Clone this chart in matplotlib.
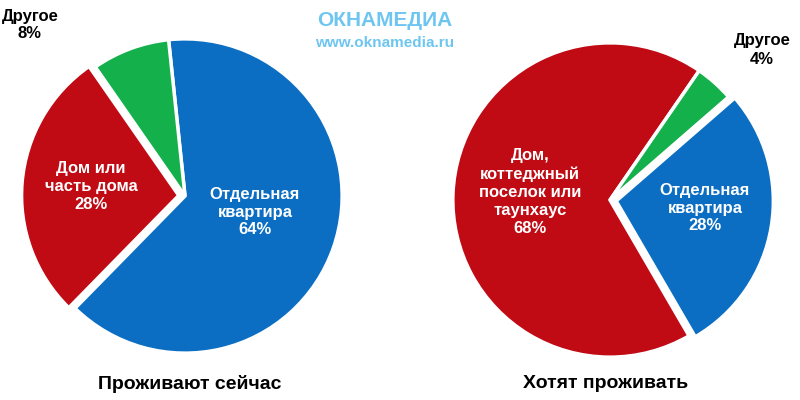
import matplotlib
matplotlib.use("Agg")
import matplotlib.pyplot as plt

now_labels = ["Отдельная\nквартира\n64%", "Дом или\nчасть дома\n28%", "Другое\n8%"]
now_values = [64, 28, 8]
want_labels = ["Отдельная\nквартира\n28%", "Дом,\nкоттеджный\nпоселок или\nтаунхаус\n68%", "Другое\n4%"]
want_values = [28, 68, 4]
colors = ["#0B6EC3", "#C00A14", "#13B04B"]

plt.rcParams['font.family'] = ['Liberation Sans', 'DejaVu Sans']
fig = plt.figure(figsize=(8, 4), dpi=100)

W, H = 800, 400
def pie_ax(cx, cy, r):
    return fig.add_axes([(cx - r) / W, (H - cy - r) / H, 2 * r / W, 2 * r / H])

def ftext(x, y, s, **kw):
    fig.text(x / W, 1 - y / H, s, ha="center", va="center", **kw)

wp = dict(edgecolor="white", linewidth=2.5)

ax1 = pie_ax(185, 196, 165)
ax1.pie(now_values, colors=colors, startangle=96, counterclock=False,
        explode=[0, 0.04, 0], wedgeprops=wp, radius=1)
ax1.set_xlim(-1.05, 1.05); ax1.set_ylim(-1.05, 1.05)

ax2 = pie_ax(610, 200, 165)
ax2.pie(want_values, colors=colors, startangle=41, counterclock=False,
        explode=[0.04, 0, 0], wedgeprops=wp, radius=1)
ax2.set_xlim(-1.05, 1.05); ax2.set_ylim(-1.05, 1.05)

lab = dict(fontsize=12, fontweight="bold", linespacing=1.25)
ftext(255, 212, now_labels[0], color="white", **lab)
ftext(91, 186, now_labels[1], color="white", **lab)
ftext(30, 25, now_labels[2], color="black", **lab)
ftext(530, 192, want_labels[1], color="white", **lab)
ftext(705, 208, want_labels[0], color="white", **lab)
ftext(762, 50, want_labels[2], color="black", **lab)

ftext(190, 384, "Проживают сейчас", fontsize=14, fontweight="bold")
ftext(606, 384, "Хотят проживать", fontsize=14, fontweight="bold")

ftext(385, 20, "ОКНАМЕДИА", color="#6EC6F0", fontsize=15, fontweight="bold")
ftext(385, 43, "www.oknamedia.ru", color="#6EC6F0", fontsize=11, fontweight="bold")

fig.savefig("out.png", dpi=100, facecolor="white")
